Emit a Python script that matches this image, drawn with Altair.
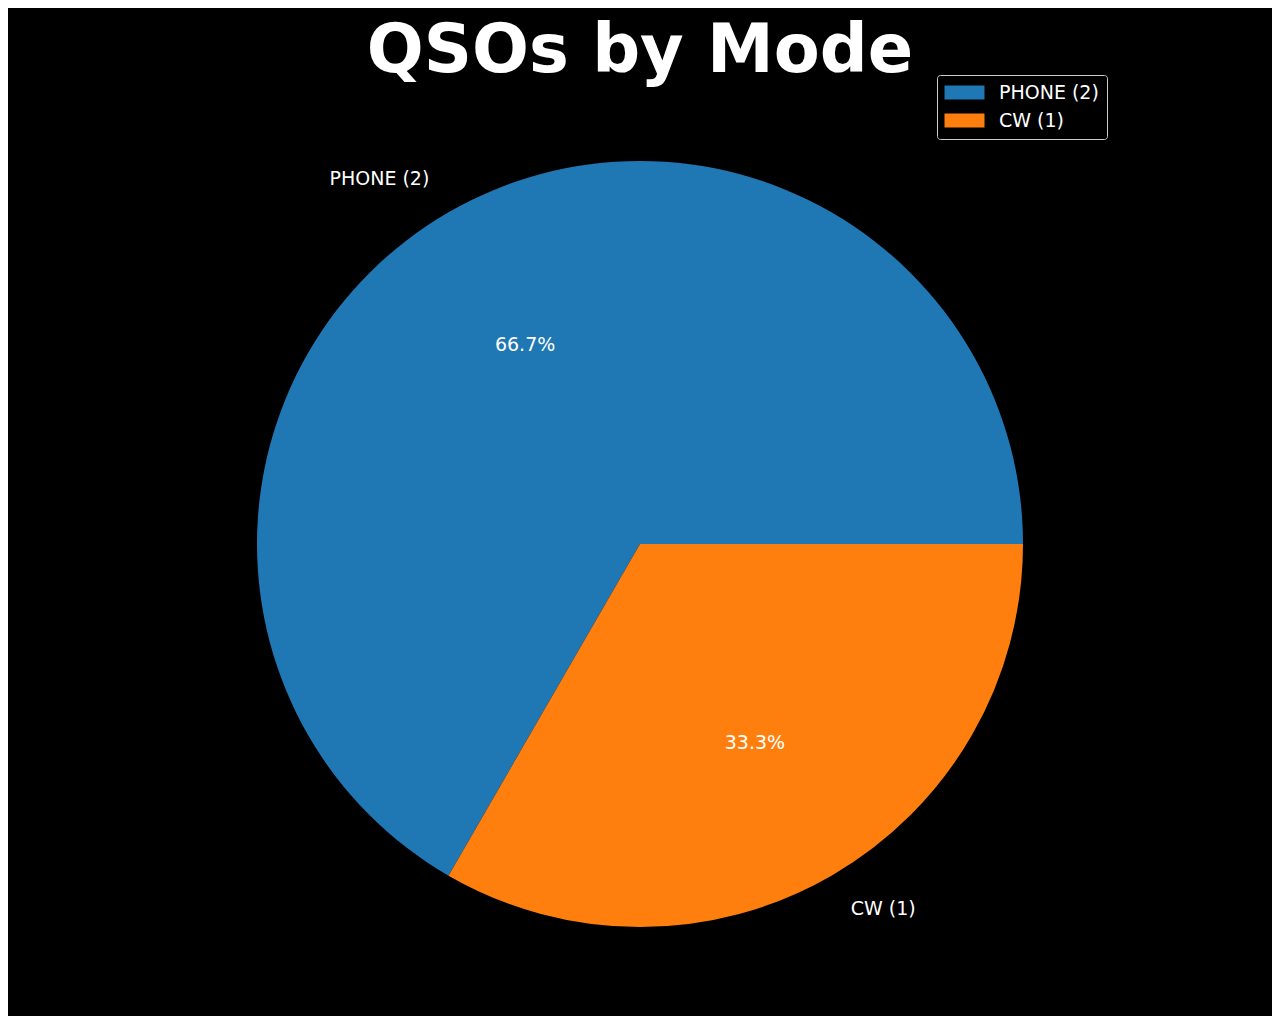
import math
import altair as alt
import pandas as pd

modes = ["PHONE", "CW"]
counts = [2, 1]
# drawing order (Vega angle order, clockwise from 12 o'clock)
slice_order = [1, 0]
labels = [f"{m} ({c})" for m, c in zip(modes, counts)]
colors = ["#1f77b4", "#ff7f0e"]

total = sum(counts)
df = pd.DataFrame({"mode": modes, "count": counts, "label": labels, "order": slice_order})

CX, CY = 632, 536
R = 383
FS = 19

theta_scale = alt.Scale(domain=[0, total], range=[math.pi / 2, math.pi / 2 + 2 * math.pi], zero=True)

base = (
    alt.Chart(df)
    .transform_stack(stack="count", groupby=[], as_=["start", "end"], sort=[alt.SortField("order", order="ascending")])
    .transform_joinaggregate(tot="sum(count)")
    .transform_calculate(
        mid="(datum.start + datum.end) / 2",
        pct="format(datum.count / datum.tot * 100, '.1f') + '%'",
    )
)

arcs = base.mark_arc(outerRadius=R, innerRadius=0, stroke=None).encode(
    theta=alt.Theta("start:Q", scale=theta_scale, stack=None),
    theta2="end:Q",
    color=alt.Color(
        "label:N",
        scale=alt.Scale(domain=labels, range=colors),
        legend=alt.Legend(
            orient="none",
            legendX=929,
            legendY=67,
            title=None,
            symbolType="M-2.857,-1L2.857,-1L2.857,1L-2.857,1Z",
            symbolSize=196,
            symbolOffset=10,
            symbolStrokeWidth=0,
            labelFontSize=FS,
            labelFont="DejaVu Sans",
            labelColor="white",
            labelOffset=25,
            padding=8,
            rowPadding=8,
            strokeColor="#cccccc",
            fillColor="black",
            cornerRadius=3,
        ),
    ),
    x=alt.value(CX),
    y=alt.value(CY),
)

pct_text = base.mark_text(radius=0.6 * R, fontSize=FS, font="DejaVu Sans", color="white", align="center", baseline="middle").encode(
    theta=alt.Theta("mid:Q", scale=theta_scale, stack=None),
    text="pct:N",
    x=alt.value(CX),
    y=alt.value(CY),
)

lab_left = base.transform_filter(alt.datum.mode == "PHONE").mark_text(
    radius=1.1 * R, fontSize=FS, font="DejaVu Sans", color="white", align="right", baseline="middle"
).encode(
    theta=alt.Theta("mid:Q", scale=theta_scale, stack=None),
    text="label:N",
    x=alt.value(CX),
    y=alt.value(CY),
)

lab_right = base.transform_filter(alt.datum.mode == "CW").mark_text(
    radius=1.1 * R, fontSize=FS, font="DejaVu Sans", color="white", align="left", baseline="middle"
).encode(
    theta=alt.Theta("mid:Q", scale=theta_scale, stack=None),
    text="label:N",
    x=alt.value(CX),
    y=alt.value(CY),
)

chart = (
    alt.layer(arcs, pct_text, lab_left, lab_right)
    .properties(
        width=1264,
        height=1008,
        autosize=alt.AutoSizeParams(type="none"),
        padding=0,
        background="black",
        title=alt.TitleParams(
            "QSOs by Mode",
            fontSize=67,
            font="DejaVu Sans",
            fontWeight="bold",
            color="white",
            anchor="middle",
            baseline="alphabetic",
            offset=-131,
        ),
    )
    .configure_view(stroke=None)
)

chart.save("out.html", embed_options={"renderer": "svg", "actions": False})
